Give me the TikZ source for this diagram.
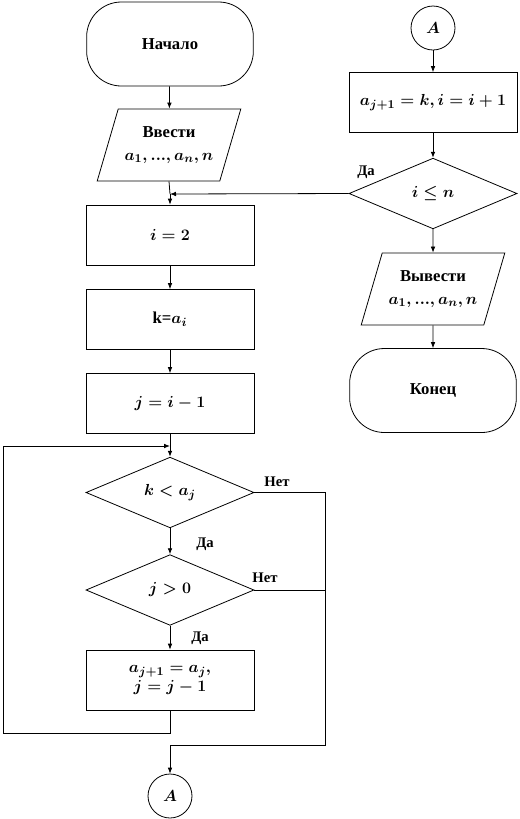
\documentclass[tikz,border=0pt]{standalone}
\usepackage{fontspec}
\setmainfont{Liberation Serif}
\usetikzlibrary{shapes.geometric,arrows.meta}
\AtBeginDocument{\mathversion{bold}}
\begin{document}
\begin{tikzpicture}[x=0.75pt,y=-0.75pt,
  every node/.style={font=\bfseries\boldmath\fontsize{12.5}{14}\selectfont, inner sep=0pt},
  proc/.style={draw, line width=0.6pt, minimum width=126pt, minimum height=45pt, align=center},
  term/.style={draw, line width=0.6pt, rounded corners=26pt, minimum width=125pt, minimum height=63pt},
  io/.style={draw, line width=0.6pt, trapezium, trapezium stretches=true, trapezium left angle=63.4, trapezium right angle=116.6, minimum width=108pt, minimum height=54pt, align=center},
  dec/.style={draw, line width=0.6pt, diamond, minimum width=126pt, minimum height=53pt, aspect=2.4},
  conn/.style={draw, line width=0.6pt, circle, minimum size=33pt},
  lbl/.style={font=\bfseries\fontsize{11}{13}\selectfont},
  line/.style={line width=0.6pt},
  arr/.style={line width=0.6pt, -{Latex[length=4.5pt,width=3.5pt]}}
]
\useasboundingbox (0,0) rectangle (519,819);
% left column
\node[term] (start) at (170,44) {Начало};
\node[io] (in) at (169,145) {Ввести\\[3pt] $a_1, ..., a_n, n$};
\node[proc] (i2) at (170,235) {$i=2$};
\node[proc] (k) at (170,319.5) {k=$a_i$};
\node[proc] (j) at (170,403.5) {$j=i-1$};
\node[dec] (d1) at (170,492.5) {$k<a_j$};
\node[dec] (d2) at (170,590) {$j>0$};
\node[proc] (sh) at (170,680) {$a_{j+1}=a_j,$\\ $j=j-1$};
\node[conn] (A1) at (170,796) {$A$};
% right column
\node[conn] (A2) at (433,28) {$A$};
\node[proc] (ins) at (433,102.5) {$a_{j+1}=k, i=i+1$};
\node[dec] (d3) at (433,193.5) {$i\le n$};
\node[io] (out) at (433,289) {Вывести\\[3pt] $a_1, ..., a_n, n$};
\node[term] (end) at (433,390.5) {Конец};
% coordinates
\coordinate (j1) at (170,194);
\coordinate (j2) at (170,446);
\coordinate (r1) at (325,492.5);
\coordinate (r2) at (325,745);
\coordinate (m2) at (170,745);
\coordinate (b1) at (170,733);
\coordinate (b2) at (3,733);
\coordinate (b3) at (3,446);
% connectors
\draw[arr] (start) -- (in);
\draw[line] (in.south) -- (j1);
\draw[arr] (j1) -- (i2);
\draw[arr] (d3.west) -- (j1);
\draw[arr] (i2) -- (k);
\draw[arr] (k) -- (j);
\draw[arr] (j) -- (d1);
\draw[arr] (d1) -- (d2);
\draw[arr] (d2) -- (sh);
\draw[line] (sh.south) -- (b1) -- (b2) -- (b3);
\draw[arr] (b3) -- (j2);
\draw[line] (d1.east) -- (r1) -- (r2) -- (m2);
\draw[line] (d2.east) -- (325,590);
\draw[arr] (m2) -- (A1);
\draw[arr] (A2) -- (ins);
\draw[arr] (ins) -- (d3);
\draw[arr] (d3) -- (out);
\draw[arr] (out) -- (end);
% labels
\node[lbl] (n1) at (277,482) {Нет};
\node[lbl] (y1) at (205,544) {Да};
\node[lbl] (n2) at (265,578) {Нет};
\node[lbl] (y2) at (200,638) {Да};
\node[lbl] (y3) at (366,172) {Да};
\end{tikzpicture}
\end{document}
